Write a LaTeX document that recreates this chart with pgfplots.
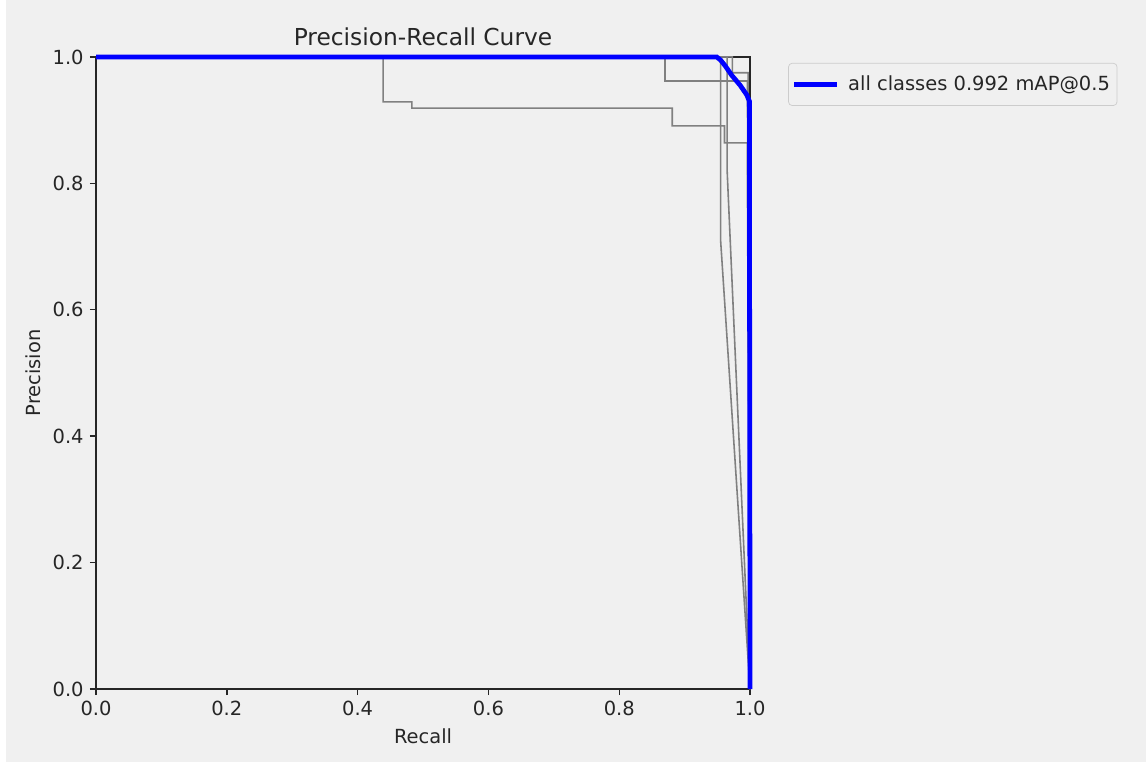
\documentclass[border=0pt]{standalone}
\usepackage{fontspec}
\setmainfont{DejaVu Sans}
\usepackage{pgfplots}
\pgfplotsset{compat=1.18}

\definecolor{figbg}{HTML}{F0F0F0}
\definecolor{clsgray}{HTML}{808080}

\begin{document}
\begin{tikzpicture}
% figure background (9in x 6in figure)
\fill[figbg] (0,0) rectangle (648pt,430.9pt);
\fill[white] (0,0) rectangle (3.4pt,430.9pt);

\begin{axis}[
  at={(54.3pt,41.3pt)}, anchor=south west,
  scale only axis,
  width=369.8pt, height=357.4pt,
  xmin=0, xmax=1, ymin=0, ymax=1,
  clip=false,
  axis background/.style={fill=figbg},
  axis line style={black!85, line width=0.8pt},
  tick align=outside,
  major tick length=3.5pt,
  every tick/.style={black!85, line width=0.8pt},
  xtick={0,0.2,0.4,0.6,0.8,1},
  ytick={0,0.2,0.4,0.6,0.8,1},
  xtick pos=bottom, ytick pos=left,
  /pgf/number format/assume math mode=true,
  xticklabel style={/pgf/number format/.cd, fixed, fixed zerofill, precision=1},
  yticklabel style={/pgf/number format/.cd, fixed, fixed zerofill, precision=1},
  tick label style={font=\fontsize{11}{13}\selectfont, text=black!85},
  label style={font=\fontsize{11}{13}\selectfont, text=black!85},
  xlabel={Recall},
  ylabel={Precision},
  title={Precision-Recall Curve},
  title style={font=\fontsize{13.2}{15}\selectfont, text=black!85, yshift=-3pt},
  legend style={at={(1.04,1)}, anchor=north west, xshift=6.8pt, yshift=-3.4pt,
    draw=black!20, fill=figbg, rounded corners=2pt,
    font=\fontsize{11}{13}\selectfont, text=black!85,
    inner xsep=2pt, inner ysep=5pt, column sep=3pt,
    cells={anchor=west}},
  legend image code/.code={\draw[#1] (0pt,0pt) -- (24pt,0pt);},
]
% per-class curves
\addplot[clsgray, line width=0.9pt, forget plot] coordinates {
  (0,1) (0.439,1) (0.439,0.929) (0.483,0.929) (0.483,0.919) (0.881,0.919)
  (0.881,0.891) (0.961,0.891) (0.961,0.864) (0.996,0.864) (0.996,0.80) (1,0)
};
\addplot[clsgray, line width=0.9pt, forget plot] coordinates {
  (0,1) (0.870,1) (0.870,0.962) (0.996,0.962) (0.996,0.95) (1,0)
};
\addplot[clsgray, line width=0.9pt, forget plot] coordinates {
  (0,1) (0.955,1) (0.955,0.71) (1,0)
};
\addplot[clsgray, line width=0.9pt, forget plot] coordinates {
  (0,1) (0.965,1) (0.965,0.82) (1,0)
};
\addplot[clsgray, line width=0.9pt, forget plot] coordinates {
  (0,1) (0.973,1) (0.973,0.975) (0.997,0.975) (1,0)
};
% mean curve
\addplot[blue, line width=2.7pt] coordinates {
  (0,1) (0.949,1) (0.955,0.995) (0.962,0.986) (0.972,0.971) (0.985,0.955)
  (0.995,0.940) (0.999,0.930) (1.0,0)
};
\addlegendentry{all classes 0.992 mAP@0.5}
\end{axis}
\pgfresetboundingbox
\useasboundingbox (0,0) rectangle (648pt,430.9pt);
\end{tikzpicture}
\end{document}
